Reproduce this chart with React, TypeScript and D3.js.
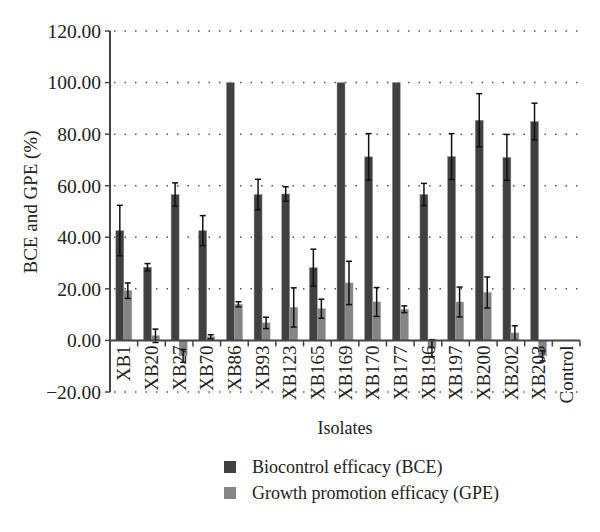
import * as d3 from "d3";
import React from "react";

const categories = [
  "XB1", "XB20", "XB27", "XB70", "XB86", "XB93", "XB123", "XB165", "XB169",
  "XB170", "XB177", "XB196", "XB197", "XB200", "XB202", "XB203", "Control",
];
const bceValues = [42.6, 28.4, 56.6, 42.6, 100, 56.6, 56.8, 28.2, 100, 71.2, 100, 56.6, 71.3, 85.4, 71.0, 84.9, 0];
const bceErrors = [9.8, 1.4, 4.5, 5.8, 0, 5.9, 2.8, 7.2, 0, 9.0, 0, 4.3, 8.9, 10.3, 8.9, 7.1, 0];
const gpeValues = [19.3, 1.8, -6.0, 1.4, 14.0, 6.8, 12.8, 12.3, 22.3, 14.9, 12.1, -3.0, 14.9, 18.6, 2.9, -6.0, 0];
const gpeErrors = [3.0, 2.6, 2.5, 0.8, 1.0, 2.2, 7.6, 3.7, 8.4, 5.6, 1.3, 3.3, 5.8, 6.0, 2.8, 2.0, 0];
const yTicks = [-20, 0, 20, 40, 60, 80, 100, 120];
const seriesNames = ["Biocontrol efficacy (BCE)", "Growth promotion efficacy (GPE)"];

const width = 600;
const height = 532;
const left = 110;
const right = 580;
const colors = ["#404040", "#858585"];
const font = "'Liberation Serif', 'DejaVu Serif', serif";

export default function App() {
  const x = d3.scaleBand<string>().domain(categories).range([left, right]);
  const bw = x.bandwidth();
  const x1 = d3.scaleBand<string>().domain(["BCE", "GPE"]).range([bw / 2 - 8, bw / 2 + 8]);
  const y = d3.scaleLinear().domain([-20, 120]).range([392, 31]);

  const series = [
    { key: "BCE", values: bceValues, errors: bceErrors, color: colors[0] },
    { key: "GPE", values: gpeValues, errors: gpeErrors, color: colors[1] },
  ];

  return (
    <div style={{ position: "absolute", left: 0, top: 0 }}>
      <svg width={width} height={height} style={{ display: "block", background: "#fff" }}>
        {/* grid */}
        {yTicks.filter((t) => t !== 0).map((t) => (
          <line key={"g" + t} x1={left + 4} x2={right} y1={y(t)} y2={y(t)}
            stroke="#555" strokeWidth={1.5} strokeDasharray="1.5,9" />
        ))}
        {/* bars */}
        {series.map((s) =>
          categories.map((c, i) => {
            const v = s.values[i];
            if (v === 0) return null;
            const bx = (x(c) as number) + (x1(s.key) as number);
            return (
              <rect key={s.key + c} x={bx} width={x1.bandwidth()}
                y={Math.min(y(v), y(0))} height={Math.abs(y(v) - y(0))}
                fill={s.color} stroke="#9a9a9a" strokeWidth={0.5} />
            );
          })
        )}
        {/* error bars */}
        {series.map((s) =>
          categories.map((c, i) => {
            const e = s.errors[i];
            if (e === 0) return null;
            const cx = (x(c) as number) + (x1(s.key) as number) + x1.bandwidth() / 2;
            const v = s.values[i];
            return (
              <g key={"e" + s.key + c} stroke="#111" strokeWidth={1.5}>
                <line x1={cx} x2={cx} y1={y(v + e)} y2={y(v - e)} />
                <line x1={cx - 3} x2={cx + 3} y1={y(v + e)} y2={y(v + e)} />
                <line x1={cx - 3} x2={cx + 3} y1={y(v - e)} y2={y(v - e)} />
              </g>
            );
          })
        )}
        {/* y axis */}
        <line x1={left} x2={left} y1={y(120)} y2={y(-20)} stroke="#444" strokeWidth={2} />
        {yTicks.map((t) => (
          <g key={"t" + t}>
            <line x1={left - 5} x2={left} y1={y(t)} y2={y(t)} stroke="#444" strokeWidth={1.5} />
            <text x={left - 9} y={y(t)} dy="0.35em" textAnchor="end" fontFamily={font}
              fontSize={19.5} fill="#222">
              {t < 0 ? "\u2212" + Math.abs(t).toFixed(2) : t.toFixed(2)}
            </text>
          </g>
        ))}
        {/* x axis */}
        <line x1={left} x2={right} y1={y(0)} y2={y(0)} stroke="#444" strokeWidth={2} />
        {categories.map((c) => (
          <line key={"xt" + c} x1={(x(c) as number) + bw} x2={(x(c) as number) + bw}
            y1={y(0)} y2={y(0) + 6} stroke="#444" strokeWidth={1.5} />
        ))}
        {categories.map((c) => {
          const cx = (x(c) as number) + bw / 2;
          return (
            <text key={"xl" + c} transform={`translate(${cx},${y(0) + 5}) rotate(-90)`}
              dy="0.35em" textAnchor="end" fontFamily={font} fontSize={19} fill="#222">
              {c}
            </text>
          );
        })}
        {/* titles */}
        <text transform={`translate(37,202) rotate(-90)`} textAnchor="middle"
          fontFamily={font} fontSize={19} fill="#222">BCE and GPE (%)</text>
        <text x={345} y={434} textAnchor="middle" fontFamily={font} fontSize={18} fill="#222">Isolates</text>
        {/* legend */}
        {seriesNames.map((n, i) => (
          <g key={n} transform={`translate(224,${461 + i * 26})`}>
            <rect width={12} height={12} fill={colors[i]} />
            <text x={28} y={6} dy="0.35em" fontFamily={font} fontSize={18} fill="#222">{n}</text>
          </g>
        ))}
      </svg>
    </div>
  );
}
